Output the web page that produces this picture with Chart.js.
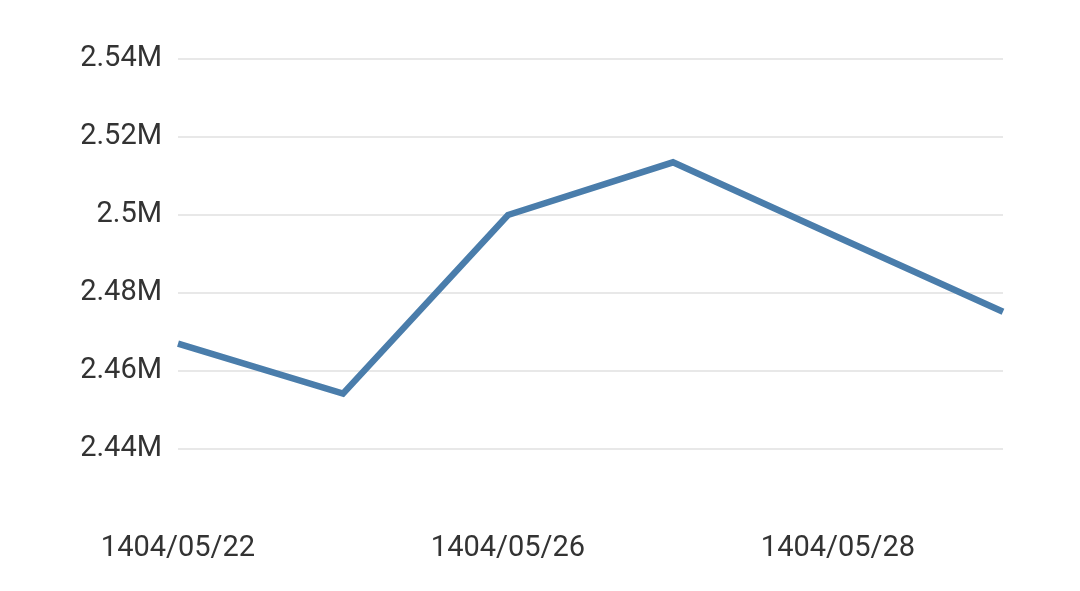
<!DOCTYPE html>
<html>
<head>
<meta charset="utf-8">
<script src="https://cdn.jsdelivr.net/npm/chart.js@4"></script>
<style>
  html, body { margin: 0; padding: 0; background: #fff; }
  #wrap { width: 1080px; height: 591px; }
</style>
</head>
<body>
<div id="wrap"><canvas id="chart"></canvas></div>
<script>
// values
const dates = ["1404/05/22", "1404/05/25", "1404/05/26", "1404/05/27", "1404/05/28", "1404/05/29"];
const values = [2467000, 2454200, 2500000, 2513500, 2494300, 2475200];
const yMin = 2420000;
const yMax = 2540000;
const yStep = 20000;

function formatM(v) {
  return (v / 1e6).toFixed(2).replace(/\.?0+$/, "") + "M";
}

new Chart(document.getElementById("chart"), {
  type: "line",
  data: {
    labels: dates,
    datasets: [{
      data: values,
      borderColor: "#4a7dab",
      borderWidth: 6.5,
      pointRadius: 0,
      tension: 0,
      fill: false
    }]
  },
  options: {
    responsive: true,
    maintainAspectRatio: false,
    animation: false,
    layout: { padding: { top: 59, right: 77, bottom: 0, left: 0 } },
    plugins: { legend: { display: false }, tooltip: { enabled: false } },
    scales: {
      x: {
        grid: { display: false },
        border: { display: false },
        ticks: {
          color: "#333",
          font: { family: "Roboto", size: 29 },
          padding: -4,
          maxRotation: 0,
          autoSkip: false,
          callback: (val, i) => (i % 2 === 0 ? dates[i] : "")
        },
        afterFit: (scale) => { scale.height = 64; }
      },
      y: {
        min: yMin,
        max: yMax,
        border: { display: false },
        grid: {
          drawTicks: false,
          lineWidth: 2,
          color: (ctx) => (ctx.tick && ctx.tick.value === yMin ? "rgba(0,0,0,0)" : "#e8e8e8")
        },
        ticks: {
          stepSize: yStep,
          color: "#333",
          font: { family: "Roboto", size: 29 },
          padding: 16,
          callback: (v) => (v === yMin ? "" : formatM(v))
        },
        afterFit: (scale) => { scale.width = 178; }
      }
    }
  }
});
</script>
</body>
</html>
